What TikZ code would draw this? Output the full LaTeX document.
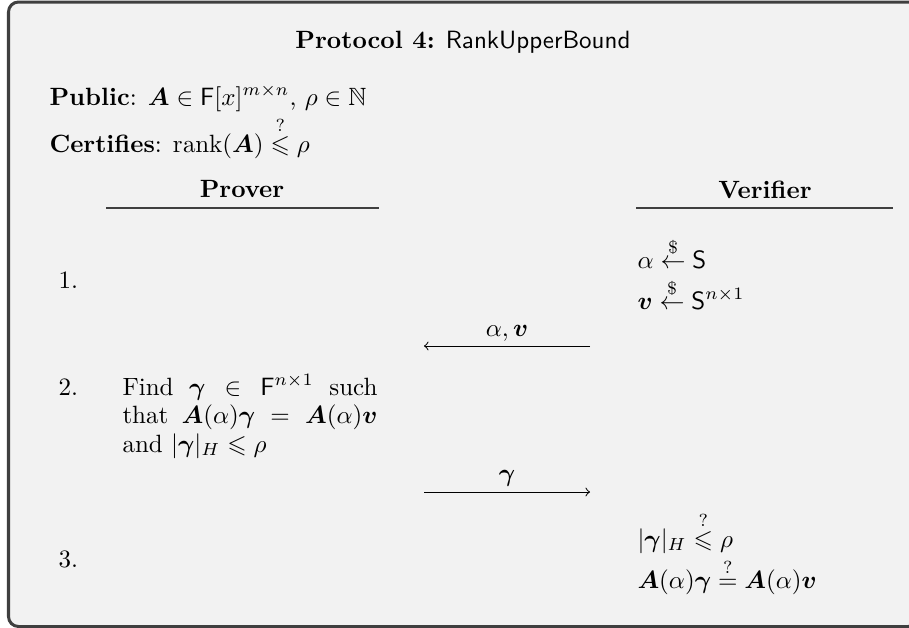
\documentclass[tikz,border=0pt]{standalone}
\usepackage{amsmath,amssymb}
\usepackage{xcolor}
\usepackage{tikz}

\definecolor{frameGray}{HTML}{3F3F3F}
\definecolor{fillGray}{HTML}{F2F2F2}

\begin{document}
\begin{tikzpicture}[x=0.4pt, y=-0.4pt,
    txt/.style={anchor=base west, inner sep=0pt},
    party/.style={anchor=base, inner sep=0pt, font=\bfseries},
    msg/.style={->, line width=0.4pt}]

        %% ── Cadre ──────────────────────────────────────────────────────────
        \useasboundingbox (0,0) rectangle (909,628);
        \clip (0,0) rectangle (909,628);
        \draw[frameGray, fill=fillGray, line width=1.2pt, rounded corners=4pt]
            (8.5,2) rectangle (918,626.5);

        %% ── En-tête ────────────────────────────────────────────────────────
        \node[anchor=base, inner sep=0pt] (title) at (463,48)
            {\textbf{Protocol 4:} \textsf{RankUpperBound}};
        \node[txt] (public) at (49,105)
            {\textbf{Public}: $\boldsymbol{A} \in \mathsf{F}[x]^{m\times n}$, $\rho \in \mathbb{N}$};
        \node[txt] (certif) at (49,152)
            {\textbf{Certifies}: $\operatorname{rank}(\boldsymbol{A}) \overset{?}{\leqslant} \rho$};

        %% ── Colonnes ───────────────────────────────────────────────────────
        \node[party] (prover) at (242,197) {Prover};
        \node[party] (verifier) at (765,198) {Verifier};
        \draw[frameGray, line width=0.5pt] (106,208) -- (379,208);
        \draw[frameGray, line width=0.5pt] (636,208) -- (893,208);

        %% ── Étape 1 ────────────────────────────────────────────────────────
        \node[txt] (step1) at (58,288) {1.};
        \node[txt] (v1a) at (637,268) {$\alpha \overset{\$}{\leftarrow} \mathsf{S}$};
        \node[txt] (v1b) at (637,309) {$\boldsymbol{v} \overset{\$}{\leftarrow} \mathsf{S}^{n\times 1}$};

        \coordinate (m1r) at (590,346);
        \coordinate (m1l) at (424,346);
        \draw[msg] (m1r) -- (m1l)
            node[midway, above, inner sep=1.8pt] {$\alpha, \boldsymbol{v}$};

        %% ── Étape 2 ────────────────────────────────────────────────────────
        \node[txt] (step2) at (58,395) {2.};
        \node[txt, text width=102pt, align=justify,
              font=\fontsize{10}{11.4}\selectfont] (p2) at (122,395)
            {Find $\boldsymbol{\gamma} \in \mathsf{F}^{n\times 1}$ such\linebreak
             that $\boldsymbol{A}(\alpha)\boldsymbol{\gamma} = \boldsymbol{A}(\alpha)\boldsymbol{v}$\linebreak
             and $|\boldsymbol{\gamma}|_H \leqslant \rho$};

        \coordinate (m2l) at (424,492);
        \coordinate (m2r) at (590,492);
        \draw[msg] (m2l) -- (m2r)
            node[midway, above, inner sep=2pt] {$\boldsymbol{\gamma}$};

        %% ── Étape 3 ────────────────────────────────────────────────────────
        \node[txt] (step3) at (58,567) {3.};
        \node[txt] (v3a) at (637,547)
            {$|\boldsymbol{\gamma}|_H \overset{?}{\leqslant} \rho$};
        \node[txt] (v3b) at (637,588)
            {$\boldsymbol{A}(\alpha)\boldsymbol{\gamma} \overset{?}{=} \boldsymbol{A}(\alpha)\boldsymbol{v}$};

    \end{tikzpicture}
\end{document}
